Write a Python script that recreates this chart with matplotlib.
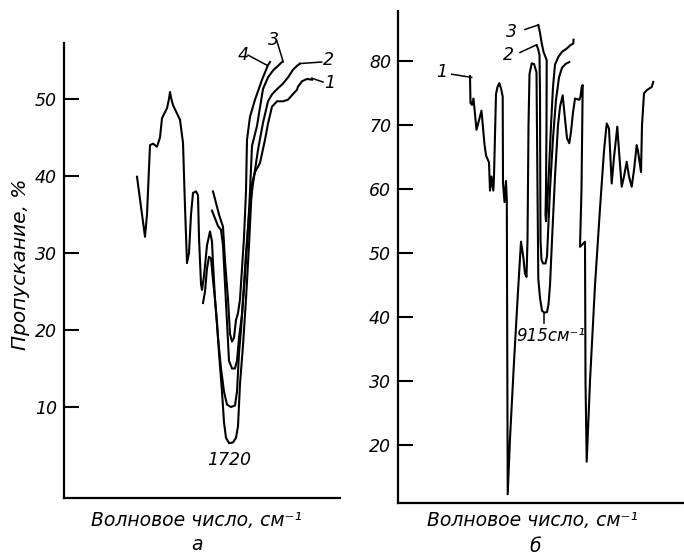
import matplotlib
matplotlib.use("Agg")
import matplotlib.pyplot as plt

# ---------------- data (x: relative position along the wavenumber axis, y: transmission %) -------------
# panel a
a1_x = [137,141,145,147,150,153,157,160,162,167,169,170,171,173,180,183,185,187,189,191,193,196,198,199,201,202,204,207,210,212,213,215,217,219,222,224,226,229,233,236,238,240,243,246,249,252,255,260,265,268,272,277,283,288,292,297,298,302,307,312]
a1_y = [39.9,36,32.1,35,44.0,44.2,43.8,45,47.5,48.8,50,50.9,50.2,49.2,47.3,44.3,36,28.7,30,35,37.8,38,37.5,32,26,25.2,27,31,32.8,31.5,28.7,24,21,17,12,8,6,5.3,5.4,6.0,7.5,13,18,24,31,39,40.5,41.7,44.7,46.8,49,49.7,49.7,49.9,50.5,51.2,51.6,52.3,52.6,52.5]
a2_x = [203,205,207,209,211,213,215,218,221,224,227,231,235,237,239,241,243,246,249,253,258,263,268,272,278,283,288,293,297,300]
a2_y = [23.5,25,28,29.5,29.3,26.5,24,19,15,12,10.3,10,10.2,12,17,20,24,30,35,39,43.4,46.9,49.7,50.6,51.4,52.0,52.8,53.8,54.3,54.6]
a3_x = [212,215,218,221,223,225,227,229,232,235,237,239,242,245,248,250,252,257,263,268,273,278,282]
a3_y = [35.5,34.5,33.5,33,31,26,21,16,15,15,16,19,22,27,33,38,43.9,46.5,51.3,52.8,53.7,54.3,54.8]
a4_x = [213,216,219,223,225,228,230,232,234,236,238,240,242,244,246,247,250,255,262,268,270]
a4_y = [38,36.5,35,33.4,29,24,19.5,18.5,19,21.3,22.2,24,28,32,38,44.7,47.7,49.9,52.5,54.4,54.8]
a_labels = ["1", "2", "3", "4"]
a_label_xy = [(330, 52.1), (328, 55.1), (273, 57.7), (243, 55.7)]
a_leaders = [((323, 52.2), (311.7, 52.7)), ((321.7, 54.8), (300, 54.6)),
             ((276.7, 57.6), (283.3, 54.8)), ((248, 55.7), (266.7, 54.4))]
a_peak_label = "1720"
a_peak_xy = (229, 3.1)
a_yticks = [10, 20, 30, 40, 50]

# panel б
b1_x = [470,470.5,472,473.5,476.5,481.5,484.5,486,489,490,491.5,493.3,494,496,497.5,499.3,501,502.7,503,504.5,506,506.8,507.7,510,514,518,521,523.3,525,526.5,527.5,528.5,529.5,531.7,534,536.5,537.5,538.3,540,542,544.5,547,548.5,550,552,555,558,560,562.7,565,567,569.3,571,573,575,579.3,580.5,581.7,582.7,581.5,580,585,585.5,586.7,590,595,600,604,606.7,609,611.7,614,617.3,619,621.7,624,626.7,629,631.7,634,636.7,638,641,642,644,646.7,651.7,653.3]
b1_y = [77.7,73.5,73.2,74.2,69.3,72.3,67,65.3,64.2,59.8,62,59.8,62,74.9,76,76.6,75.8,74.5,61,58,61.3,58.3,12.3,21,33,44,51.8,49.4,46.8,46.3,52,70,78,79.7,79.6,78.3,60,46,43,41,40.7,40.8,42,45,52,62,70,72.9,74.7,71,68,67.2,69,72,74.2,74,74.5,76,76.3,60,51,51.8,30,17.4,30,45,57,66,70.3,69.5,60.9,65,69.8,66,60.4,62,64.3,62,60.4,63,66.9,66,62.7,70,75,75.5,76,76.8]
b2_x = [536.7,538,539.5,540,540.3,540.5,541.5,543,545.5,547,548,550,553,556,559,562,565.5,569.3]
b2_y = [82.5,82,81,75,60,52,49,48.4,48.4,49.5,53,60,68,74,77.5,79,79.6,79.9]
b3_x = [538.3,540,541.5,543.5,546.7,546.5,546,545.5,546,547,549,551,553,555,558.3,562,566.7,570,573.3,573.5]
b3_y = [85.7,84.5,83,81.5,80.2,70,60,56,55,57,63,70,76,79.5,80.7,81.5,82,82.5,82.8,83.4]
b_labels = ["1", "2", "3"]
b_label_xy = [(441.7, 78.3), (508.3, 81.0), (511.7, 84.6)]
b_leaders = [((451.7, 78.0), (471.7, 77.5)), ((520, 81.4), (536.7, 82.6)),
             ((525, 85.0), (538.3, 85.7))]
b_peak_label = "915см⁻¹"
b_peak_xy = (551, 37.0)
b_peak_leader = ((544, 40.6), (544, 39.1))
b_yticks = [20, 30, 40, 50, 60, 70, 80]

xlabel_text = "Волновое число, см⁻¹"
ylabel_text = "Пропускание, %"
panel_names = ["а", "б"]

# ---------------- figure ----------------
W, H = 684, 557
fig = plt.figure(figsize=(W / 100, H / 100), dpi=100)
plt.rcParams['font.family'] = ['DejaVu Sans']

def ax_rect(x0, x1, ytop, ybot):
    return [x0 / W, (H - ybot) / H, (x1 - x0) / W, (ybot - ytop) / H]

axA = fig.add_axes(ax_rect(64, 340, 43, 498))
axB = fig.add_axes(ax_rect(398, 684, 10.6, 503))

LW = 1.5
FS = 12.5
for ax, xl, yl, yt in [(axA, (64, 340), (-1.82, 57.27), a_yticks),
                       (axB, (398, 684), (10.93, 87.95), b_yticks)]:
    ax.set_xlim(*xl)
    ax.set_ylim(*yl)
    for s in ["top", "right"]:
        ax.spines[s].set_visible(False)
    for s in ["left", "bottom"]:
        ax.spines[s].set_linewidth(1.6)
    ax.set_xticks([])
    ax.set_yticks(yt)
    ax.tick_params(axis="y", direction="in", length=11, width=1.5, labelsize=FS, pad=5)
    for t in ax.get_yticklabels():
        t.set_fontstyle("italic")
    ax.patch.set_alpha(0)

for xs, ys in [(a1_x, a1_y), (a2_x, a2_y), (a3_x, a3_y), (a4_x, a4_y)]:
    axA.plot(xs, ys, color="black", lw=LW, solid_joinstyle="round")
for xs, ys in [(b1_x, b1_y), (b2_x, b2_y), (b3_x, b3_y)]:
    axB.plot(xs, ys, color="black", lw=LW, solid_joinstyle="round")

for ax, labels, pos, leaders in [(axA, a_labels, a_label_xy, a_leaders),
                                 (axB, b_labels, b_label_xy, b_leaders)]:
    for lab, (x, y), (p0, p1) in zip(labels, pos, leaders):
        ax.text(x, y, lab, fontsize=FS, fontstyle="italic", ha="center", va="center", clip_on=False)
        ax.plot([p0[0], p1[0]], [p0[1], p1[1]], color="black", lw=1.1, clip_on=False)

axA.text(*a_peak_xy, a_peak_label, fontsize=FS, fontstyle="italic", ha="center", va="center")
axB.text(*b_peak_xy, b_peak_label, fontsize=FS - 0.5, fontstyle="italic", ha="center", va="center")
axB.plot([b_peak_leader[0][0], b_peak_leader[1][0]], [b_peak_leader[0][1], b_peak_leader[1][1]],
         color="black", lw=1.1)

fig.text(196 / W, 1 - 520 / H, xlabel_text, fontsize=13.5, fontstyle="italic", ha="center", va="center")
fig.text(532 / W, 1 - 520 / H, xlabel_text, fontsize=13.5, fontstyle="italic", ha="center", va="center")
fig.text(197 / W, 1 - 545 / H, panel_names[0], fontsize=13.5, fontstyle="italic", ha="center", va="center")
fig.text(535 / W, 1 - 546 / H, panel_names[1], fontsize=13.5, fontstyle="italic", ha="center", va="center")
fig.text(21 / W, 1 - 264 / H, ylabel_text, fontsize=14.5, fontstyle="italic", rotation=90,
         ha="center", va="center")

fig.savefig("out.png", dpi=100)
